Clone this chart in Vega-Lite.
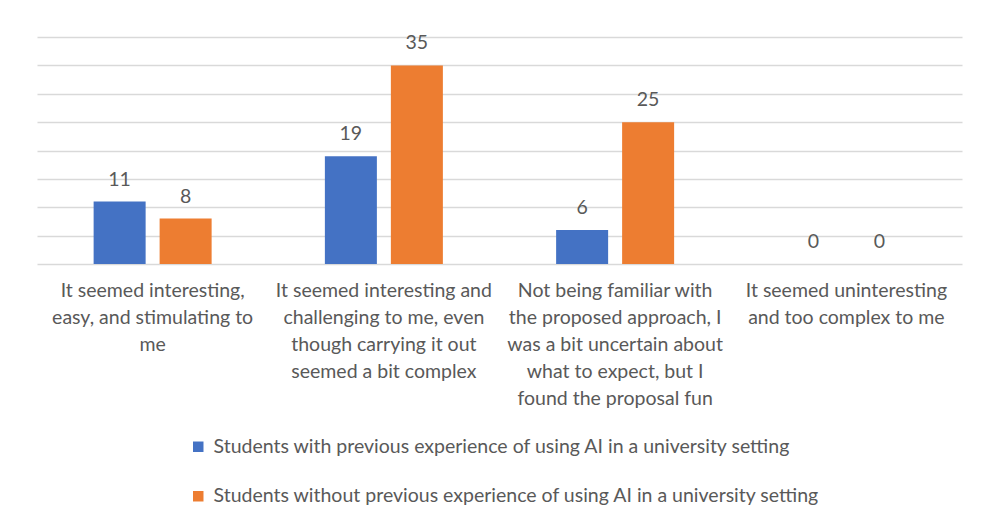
{
  "$schema": "https://vega.github.io/schema/vega-lite/v6.json",
  "autosize": "none",
  "width": 925,
  "height": 227,
  "padding": {"left": 37, "top": 37, "right": 28, "bottom": 253},
  "background": "white",
  "config": {
    "view": {"stroke": null},
    "font": "Lato",
    "text": {"font": "Lato"}
  },
  "data": {
    "values": [
      {"category": "It seemed interesting, easy, and stimulating to me", "group": "Students with previous experience of using AI in a university setting", "value": 11},
      {"category": "It seemed interesting, easy, and stimulating to me", "group": "Students without previous experience of using AI in a university setting", "value": 8},
      {"category": "It seemed interesting and challenging to me, even though carrying it out seemed a bit complex", "group": "Students with previous experience of using AI in a university setting", "value": 19},
      {"category": "It seemed interesting and challenging to me, even though carrying it out seemed a bit complex", "group": "Students without previous experience of using AI in a university setting", "value": 35},
      {"category": "Not being familiar with the proposed approach, I was a bit uncertain about what to expect, but I found the proposal fun", "group": "Students with previous experience of using AI in a university setting", "value": 6},
      {"category": "Not being familiar with the proposed approach, I was a bit uncertain about what to expect, but I found the proposal fun", "group": "Students without previous experience of using AI in a university setting", "value": 25},
      {"category": "It seemed uninteresting and too complex to me", "group": "Students with previous experience of using AI in a university setting", "value": 0},
      {"category": "It seemed uninteresting and too complex to me", "group": "Students without previous experience of using AI in a university setting", "value": 0}
    ]
  },
  "encoding": {
    "x": {
      "field": "category",
      "type": "nominal",
      "sort": null,
      "scale": {"paddingInner": 0, "paddingOuter": 0},
      "axis": {
        "title": null,
        "domain": false,
        "ticks": false,
        "labelAngle": 0,
        "labelFontSize": 19.5,
        "labelColor": "#595959",
        "labelLineHeight": 27,
        "labelPadding": 17,
        "labelBaseline": "top",
        "labelLimit": 0,
        "labelExpr": "datum.value == 'It seemed interesting, easy, and stimulating to me' ? ['It seemed interesting,', 'easy, and stimulating to', 'me'] : datum.value == 'It seemed interesting and challenging to me, even though carrying it out seemed a bit complex' ? ['It seemed interesting and', 'challenging to me, even', 'though carrying it out', 'seemed a bit complex'] : datum.value == 'Not being familiar with the proposed approach, I was a bit uncertain about what to expect, but I found the proposal fun' ? ['Not being familiar with', 'the proposed approach, I', 'was a bit uncertain about', 'what to expect, but I', 'found the proposal fun'] : ['It seemed uninteresting', 'and too complex to me']"
      }
    },
    "xOffset": {
      "field": "group",
      "type": "nominal",
      "sort": null,
      "scale": {"paddingInner": 0.212, "paddingOuter": 0.858}
    },
    "y": {
      "field": "value",
      "type": "quantitative",
      "scale": {"domain": [0, 40], "nice": false},
      "axis": {
        "title": null,
        "labels": false,
        "ticks": false,
        "domain": false,
        "values": [0, 5, 10, 15, 20, 25, 30, 35, 40],
        "gridColor": "#d9d9d9",
        "gridWidth": 1.6
      }
    },
    "color": {
      "field": "group",
      "type": "nominal",
      "sort": null,
      "scale": {"range": ["#4472C4", "#ED7D31"]},
      "legend": {
        "title": null,
        "orient": "none",
        "direction": "vertical",
        "legendX": 151.5,
        "legendY": 400,
        "padding": 0,
        "symbolType": "square",
        "symbolSize": 110,
        "symbolStrokeWidth": 0,
        "labelFontSize": 19.5,
        "labelColor": "#595959",
        "labelOffset": 5.5,
        "labelLimit": 0,
        "rowPadding": 28.5
      }
    }
  },
  "layer": [
    {"mark": {"type": "bar"}},
    {
      "mark": {"type": "text", "baseline": "bottom", "dy": -12, "fontSize": 19.5},
      "encoding": {
        "text": {"field": "value", "type": "quantitative"},
        "color": {"value": "#595959"}
      }
    }
  ]
}
